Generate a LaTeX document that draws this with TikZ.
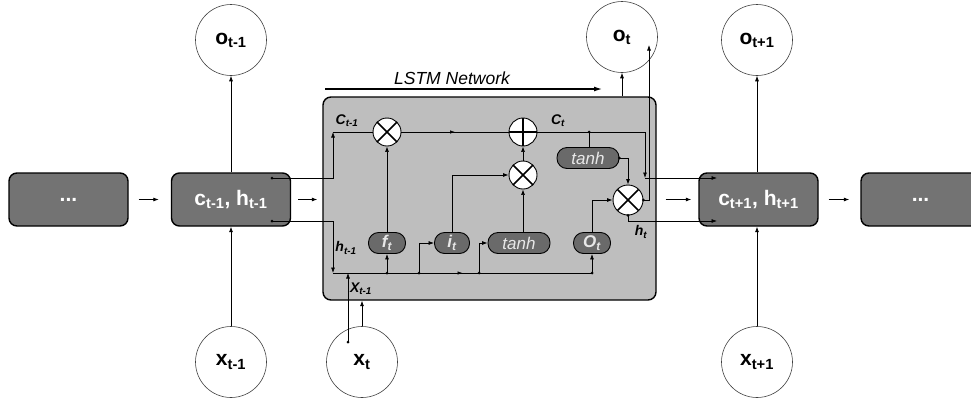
\documentclass[tikz,border=0pt]{standalone}
\usepackage{fontspec}
\setmainfont{Liberation Sans}
\usetikzlibrary{arrows.meta,decorations.markings,calc}

\definecolor{cellgray}{HTML}{737373}
\definecolor{netgray}{HTML}{BEBEBE}
\definecolor{gategray}{HTML}{6A6A6A}
\definecolor{gatetext}{HTML}{E8E8E8}

\tikzset{
  arr/.style={-{Latex[length=5.5pt,width=4pt]}, line width=0.7pt},
  ln/.style={line width=0.7pt},
  cell/.style={draw, line width=1.4pt, rounded corners=8pt, fill=cellgray,
    minimum width=119pt, minimum height=53pt, text=white,
    font=\bfseries\fontsize{21}{21}\selectfont},
  unit/.style={circle, draw=black!75, line width=0.6pt, fill=white,
    minimum size=71pt, inner sep=0pt, font=\bfseries\fontsize{21}{21}\selectfont},
  gatebox/.style={draw, line width=0.9pt, rounded corners=10pt, fill=gategray,
    minimum height=21pt, text=gatetext, inner sep=0pt,
    font=\itshape\fontsize{17}{17}\selectfont},
  boldgate/.style={gatebox, font=\bfseries\itshape\fontsize{17}{17}\selectfont},
  mult/.style={circle, draw, line width=0.9pt, fill=white, minimum size=28pt,
    inner sep=0pt, path picture={
      \draw[line width=1.5pt]
        (path picture bounding box.north west) -- (path picture bounding box.south east)
        (path picture bounding box.north east) -- (path picture bounding box.south west);}},
  add/.style={circle, draw, line width=0.9pt, fill=white, minimum size=28pt,
    inner sep=0pt, path picture={
      \draw[line width=1.5pt]
        (path picture bounding box.north) -- (path picture bounding box.south)
        (path picture bounding box.west) -- (path picture bounding box.east);}},
  lab/.style={font=\bfseries\itshape\fontsize{14}{14}\selectfont, inner sep=0pt},
  jdot/.style={circle, fill=black, inner sep=0pt, minimum size=3pt},
  midarr/.style={postaction={decorate}, decoration={markings,
    mark=at position #1 with {\arrow{Latex[length=5pt,width=3.5pt]}}}},
}

\begin{document}
\begin{tikzpicture}[x=1pt, y=-1pt]
\useasboundingbox (0,0) rectangle (971,397);

% network title with its arrow
\coordinate (nA) at (325,89);
\coordinate (nB) at (602,89);
\draw[line width=1.2pt, -{Latex[length=8pt,width=5pt]}] (nA) -- (nB);
\node[font=\itshape\fontsize{17.5}{17.5}\selectfont] (ttl) at (452,78) {LSTM Network};

% the unrolled cells
\node[draw, line width=1.4pt, rounded corners=8pt, fill=netgray,
      minimum width=333pt, minimum height=203pt] (lstm) at (489.5,198.5) {};
\node[cell] (dl) at (68.5,199.5) {...};
\node[cell] (cp) at (231,199.5) {c\textsubscript{t-1}, h\textsubscript{t-1}};
\node[cell] (cn) at (758.5,199.5) {c\textsubscript{t+1}, h\textsubscript{t+1}};
\node[cell] (dr) at (920.5,199.5) {...};

% inputs and outputs
\node[unit] (op) at (231,40) {o\textsubscript{t-1}};
\node[unit] (oc) at (622,37) {o\textsubscript{t}};
\node[unit] (on) at (757,40) {o\textsubscript{t+1}};
\node[unit] (xp) at (231,362) {x\textsubscript{t-1}};
\node[unit] (xc) at (362,362) {x\textsubscript{t}};
\node[unit] (xn) at (757,362) {x\textsubscript{t+1}};

% links between cells
\draw[arr, shorten <=10pt, shorten >=12pt] (dl) -- (cp);
\draw[arr, shorten <=7pt, shorten >=5pt] (cp.east) -- (cp.east -| lstm.west);
\draw[arr, shorten <=9pt, shorten >=7pt] (lstm.east |- cn.west) -- (cn.west);
\draw[arr, shorten <=10pt, shorten >=11pt] (cn) -- (dr);
\draw[arr] (cp) -- (op);
\draw[arr] (xp) -- (cp);
\draw[arr] (on.south |- cn.north) -- (on.south);
\draw[arr] (xn.north) -- (xn.north |- cn.south);
\draw[arr] (oc.south |- lstm.north) -- (oc.south);
\draw[arr] (xc.north) -- (xc.north |- lstm.south);

% gates and pointwise operations
\node[mult] (fx) at (387,132) {};
\node[add] (pl) at (523,132) {};
\node[mult] (ix) at (523,175) {};
\node[mult, minimum size=30pt] (ox) at (628,200) {};
\node[boldgate, minimum width=37pt] (ft) at (387,243) {f\textsubscript{t}};
\node[boldgate, minimum width=35pt] (it) at (452,243) {i\textsubscript{t}};
\node[gatebox, minimum width=62pt] (tb) at (519,243) {tanh};
\node[boldgate, minimum width=37pt] (ot) at (592,243) {O\textsubscript{t}};
\node[gatebox, minimum width=62pt] (tt) at (588,158) {tanh};

% routing points
\coordinate (cA) at (272,178);
\coordinate (cB) at (272,221);
\coordinate (lA) at (333,132);
\coordinate (lB) at (333,273);
\coordinate (bF) at (387,273);
\coordinate (bI) at (419,273);
\coordinate (bT) at (479,273);
\coordinate (bO) at (592,273);
\coordinate (xd) at (348,342);
\coordinate (xb) at (348,273);
\coordinate (cT) at (589,132);
\coordinate (cD) at (645,178);
\coordinate (cnA) at (717,178);
\coordinate (cnB) at (717,221);
\coordinate (hU) at (649,45);

% internal wiring
\draw[arr] (cA) -| (lA);
\draw[ln] (lA) -- (fx.west);
\draw[arr] (cB) -| (lB);
\draw[ln, midarr=0.5] (lB) -- (bO);
\draw[arr] (xd) -- (xb);
\draw[arr] (bF) -- (ft.south);
\draw[arr] (ft.north) -- (fx.south);
\draw[arr] (bI) |- (it.west);
\draw[arr] (it.north) |- (ix.west);
\draw[arr] (bT) |- (tb.west);
\draw[arr] (ix.south |- tb.north) -- (ix.south);
\draw[arr] (ix.north) -- (pl.south);
\draw[ln, midarr=0.5] (fx.east) -- (pl.west);
\draw[arr] (pl.east) -| (cD);
\draw[arr] (cD) -- (cnA);
\draw[ln] (cT) -- (cT |- tt.north);
\draw[arr] (tt.east) -| (ox.north);
\draw[arr] (bO) -- (ot.south);
\draw[arr] (ot.north) |- (ox.west);
\draw[arr] (ox.east) -| (hU);
\draw[arr] (ox.south) |- (cnB);

% junction dots
\foreach \p in {cA,cB,bF,bI,bT,bO,xd,cT,tt.east,ox.east,ox.south}
  \node[jdot] at (\p) {};

% signal labels
\node[lab] (lc1) at (347,121) {C\textsubscript{t-1}};
\node[lab] (lc2) at (558,121) {C\textsubscript{t}};
\node[lab] (lh1) at (346,248) {h\textsubscript{t-1}};
\node[lab] (lh2) at (641,232) {h\textsubscript{t}};
\node[lab] (lx) at (361,289) {X\textsubscript{t-1}};
\end{tikzpicture}
\end{document}
